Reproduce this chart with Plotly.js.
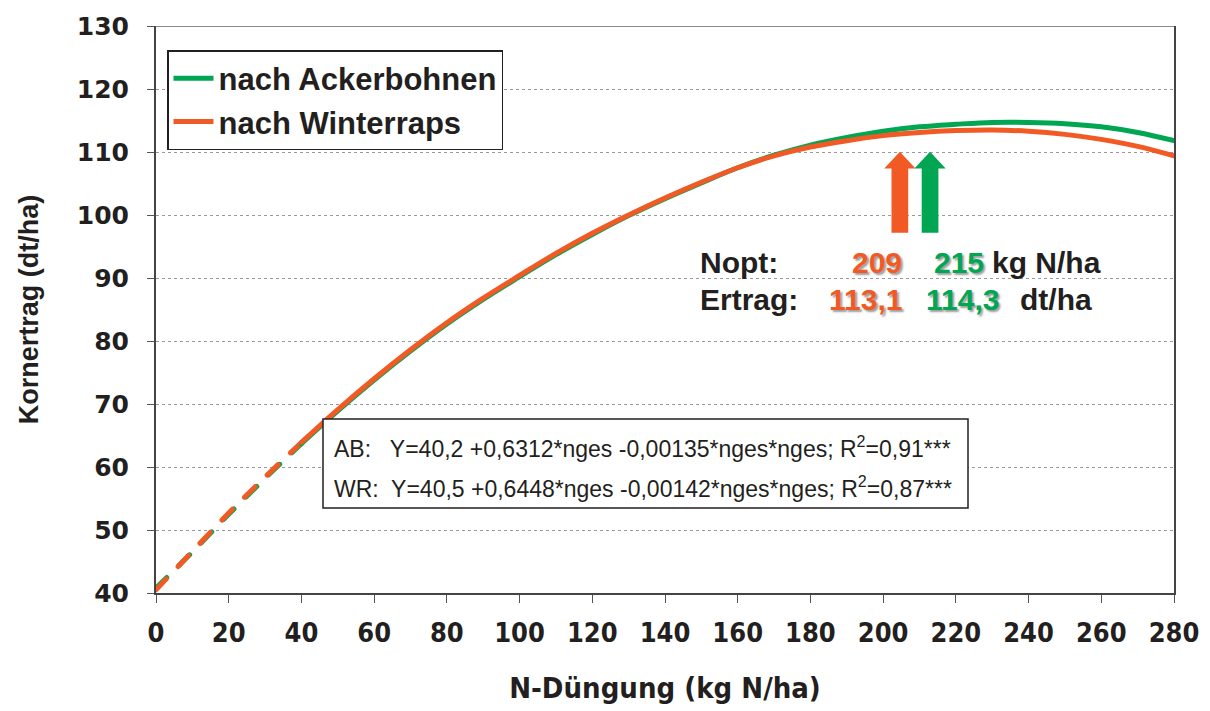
<!DOCTYPE html>
<html>
<head>
<meta charset="utf-8">
<script src="https://cdn.plot.ly/plotly-3.0.1.min.js"></script>
<style>html,body{margin:0;padding:0;background:#fff;}#chart{width:1210px;height:711px;}
.scatterlayer path.js-line{stroke-linecap:round;}</style>
</head>
<body>
<div id="chart"></div>
<script>
// N-Düngung (kg N/ha)
const nDuengung = [0,10,20,30,40,50,60,70,80,90,100,110,120,130,140,150,160,170,180,190,200,210,220,230,240,250,260,270,280];
// Kornertrag nach Ackerbohnen (dt/ha)
const ertragAB = [40.8,46.5,52.5,58.2,63.7,68.9,73.8,78.4,82.7,86.6,90.2,93.7,96.9,99.9,102.6,105.1,107.5,109.5,111.1,112.3,113.3,114.0,114.4,114.7,114.7,114.5,114.0,113.1,111.8];
// Kornertrag nach Winterraps (dt/ha)
const ertragWR = [40.5,46.6,52.7,58.4,63.9,69.1,74.0,78.6,82.9,86.8,90.4,93.9,97.1,100.0,102.7,105.2,107.5,109.4,110.8,111.8,112.6,113.1,113.4,113.5,113.3,112.8,112.0,110.9,109.4];
const seriesNames = ["nach Ackerbohnen","nach Winterraps"];
const noptValues = ["209","215"];
const ertragValues = ["113,1","114,3"];
const eqAB = "AB:   Y=40,2 +0,6312*nges -0,00135*nges*nges; R<sup>2</sup>=0,91***";
const eqWR = "WR:  Y=40,5 +0,6448*nges -0,00142*nges*nges; R<sup>2</sup>=0,87***";
const xTicks = [0,20,40,60,80,100,120,140,160,180,200,220,240,260,280];
const yTicks = [40,50,60,70,80,90,100,110,120,130];

const GREEN = "#00a651", ORANGE = "#f15a24";
const splitAt = 4; // index of x=40, end of dashed part

function seg(arr, a, b){ return arr.slice(a, b); }

const traces = [
  {x: seg(nDuengung,0,splitAt+1), y: seg(ertragAB,0,splitAt+1), mode:"lines", line:{color:GREEN,width:5,dash:"15px,17px",shape:"spline"}, showlegend:false, hoverinfo:"skip"},
  {x: seg(nDuengung,0,splitAt+1), y: seg(ertragWR,0,splitAt+1), mode:"lines", line:{color:ORANGE,width:5,dash:"15px,17px",shape:"spline"}, showlegend:false, hoverinfo:"skip"},
  {x: seg(nDuengung,splitAt), y: seg(ertragAB,splitAt), mode:"lines", name:seriesNames[0], legendgroup:"a", line:{color:GREEN,width:5,shape:"spline"}},
  {x: seg(nDuengung,splitAt), y: seg(ertragWR,splitAt), mode:"lines", name:seriesNames[1], legendgroup:"b", line:{color:ORANGE,width:5,shape:"spline"}}
];

// arrow shapes (visual markers of N optimum)
function arrowPath(cx){
  const sw=2.3, hw=4.3, yb=97.2, yh=107.4, yt=110.05;
  return `M ${cx-sw},${yb} L ${cx-sw},${yh} L ${cx-hw},${yh} L ${cx},${yt} L ${cx+hw},${yh} L ${cx+sw},${yh} L ${cx+sw},${yb} Z`;
}

const L = 156, R = 1174, T = 26, B = 593;
const W = R-L, H = B-T;
const px = x => (x-L)/W;
const py = y => (B-y)/H;

const bold = "Liberation Sans, Arial, sans-serif";
const narrow = "Liberation Sans Narrow, Arial Narrow, DejaVu Sans Condensed, sans-serif";
const shadow = "2px 2px 2px rgba(90,90,90,0.6)";

const annotations = [
  {text:"Nopt:", x:px(698), y:py(262), xanchor:"left", yanchor:"middle", font:{family:bold,size:30,color:"#231f20",weight:"bold"}},
  {text:noptValues[0], x:px(904), y:py(262), xanchor:"right", yanchor:"middle", font:{family:bold,size:30,color:ORANGE,weight:"bold",shadow:shadow}},
  {text:noptValues[1], x:px(986), y:py(262), xanchor:"right", yanchor:"middle", font:{family:bold,size:30,color:GREEN,weight:"bold",shadow:shadow}},
  {text:"kg N/ha", x:px(990), y:py(262), xanchor:"left", yanchor:"middle", font:{family:bold,size:30,color:"#231f20",weight:"bold"}},
  {text:"Ertrag:", x:px(698), y:py(299), xanchor:"left", yanchor:"middle", font:{family:bold,size:30,color:"#231f20",weight:"bold"}},
  {text:ertragValues[0], x:px(904), y:py(299), xanchor:"right", yanchor:"middle", font:{family:bold,size:30,color:ORANGE,weight:"bold",shadow:shadow}},
  {text:ertragValues[1], x:px(1001), y:py(299), xanchor:"right", yanchor:"middle", font:{family:bold,size:30,color:GREEN,weight:"bold",shadow:shadow}},
  {text:"dt/ha", x:px(1018), y:py(299), xanchor:"left", yanchor:"middle", font:{family:bold,size:30,color:"#231f20",weight:"bold"}},
  {text:eqAB, x:px(332), y:py(447), xanchor:"left", yanchor:"middle", font:{family:"Liberation Sans, Arial, sans-serif",size:23,color:"#231f20"}},
  {text:eqWR, x:px(332), y:py(487), xanchor:"left", yanchor:"middle", font:{family:"Liberation Sans, Arial, sans-serif",size:23,color:"#231f20"}}
].map(a => Object.assign({xref:"paper", yref:"paper", showarrow:false}, a));

const shapes = [
  {type:"line", xref:"paper", yref:"y", x0:0, x1:1, y0:130, y1:130, line:{color:"#8a8a8a",width:2}},
  {type:"rect", xref:"paper", yref:"paper", x0:px(323), x1:px(968), y0:py(508), y1:py(419), line:{color:"#231f20",width:1.5}, fillcolor:"#ffffff"},
  {type:"path", xref:"x", yref:"y", path:arrowPath(204.6), fillcolor:ORANGE, line:{width:0}},
  {type:"path", xref:"x", yref:"y", path:arrowPath(212.9), fillcolor:GREEN, line:{width:0}}
];

const layout = {
  width:1210, height:711,
  margin:{l:L, r:1210-R, t:T, b:711-B, pad:0},
  paper_bgcolor:"#fff", plot_bgcolor:"#fff",
  showlegend:true,
  legend:{x:px(167), y:py(50), xanchor:"left", yanchor:"top", bgcolor:"#fff", bordercolor:"#231f20", borderwidth:1.5,
          font:{family:bold,size:31,color:"#231f20",weight:"bold"}, traceorder:"grouped", tracegroupgap:0, itemwidth:40},
  xaxis:{range:[0,280], tickvals:xTicks, ticktext:xTicks.map(String), showgrid:false, zeroline:false,
         showline:true, linecolor:"#444", linewidth:2, ticks:"outside", ticklen:8, tickcolor:"#555", tickwidth:1,
         tickfont:{family:narrow,size:27,color:"#231f20",weight:"bold"},
         ticklabelstandoff:7,
         title:{text:"N-Düngung (kg N/ha)", font:{family:narrow,size:29,color:"#231f20",weight:"bold"}, standoff:30}},
  yaxis:{range:[40,130], tickvals:yTicks, ticktext:yTicks.map(String), showgrid:true, gridcolor:"#9a9a9a", griddash:"dot", gridwidth:1,
         zeroline:false, showline:true, mirror:true, linecolor:"#444", linewidth:2, ticks:"outside", ticklen:7, tickcolor:"#555",
         tickfont:{family:"DejaVu Sans, sans-serif",size:25,color:"#231f20",weight:"bold"}, ticklabelstandoff:13,
         title:{text:"Kornertrag (dt/ha)", font:{family:bold,size:27,color:"#231f20",weight:"bold"}, standoff:30}},
  annotations:annotations,
  shapes:shapes
};

Plotly.newPlot("chart", traces, layout, {displayModeBar:false, staticPlot:true});
</script>
</body>
</html>
